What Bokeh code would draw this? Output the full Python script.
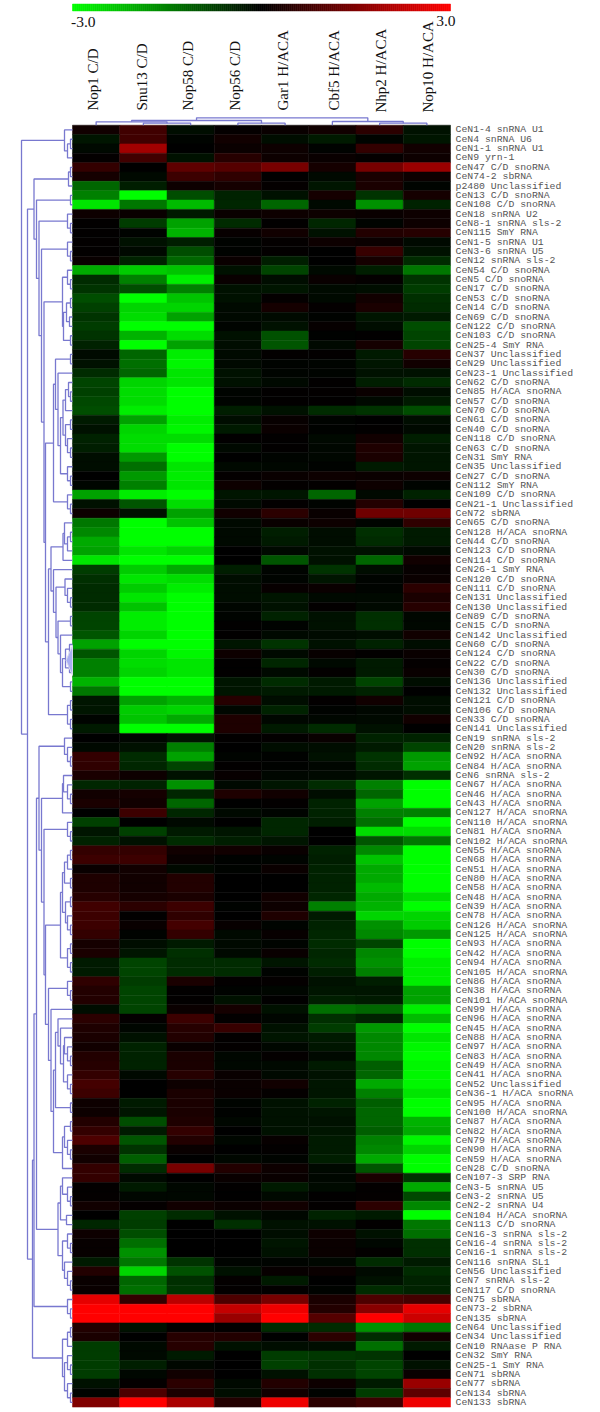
import numpy as np
from bokeh.plotting import figure
from bokeh.models import ColumnDataSource, LinearColorMapper, Range1d
from bokeh.core.properties import value
from bokeh.embed import file_html
from bokeh.resources import INLINE

columns = ["Nop1 C/D", "Snu13 C/D", "Nop58 C/D", "Nop56 C/D", "Gar1 H/ACA", "Cbf5 H/ACA", "Nhp2 H/ACA", "Nop10 H/ACA"]

labels_a = ["CeN1-4 snRNA U1","CeN4 snRNA U6","CeN1-1 snRNA U1","CeN9 yrn-1","CeN47 C/D snoRNA","CeN74-2 sbRNA","p2480 Unclassified","CeN13 C/D snoRNA","CeN108 C/D snoRNA","CeN18 snRNA U2","CeN8-1 snRNA sls-2","CeN115 SmY RNA","CeN1-5 snRNA U1","CeN3-6 snRNA U5","CeN12 snRNA sls-2"]
labels_b = ["CeN54 C/D snoRNA","CeN5 C/D snoRNA","CeN17 C/D snoRNA","CeN53 C/D snoRNA","CeN14 C/D snoRNA","CeN69 C/D snoRNA","CeN122 C/D snoRNA","CeN103 C/D snoRNA","CeN25-4 SmY RNA","CeN37 Unclassified","CeN29 Unclassified","CeN23-1 Unclassified","CeN62 C/D snoRNA","CeN85 H/ACA snoRNA","CeN57 C/D snoRNA","CeN70 C/D snoRNA","CeN61 C/D snoRNA","CeN40 C/D snoRNA","CeN118 C/D snoRNA","CeN63 C/D snoRNA","CeN31 SmY RNA","CeN35 Unclassified","CeN27 C/D snoRNA","CeN112 SmY RNA","CeN109 C/D snoRNA","CeN21-1 Unclassified","CeN72 sbRNA"]
labels_c = ["CeN65 C/D snoRNA","CeN128 H/ACA snoRNA","CeN44 C/D snoRNA","CeN123 C/D snoRNA","CeN114 C/D snoRNA","CeN26-1 SmY RNA","CeN120 C/D snoRNA","CeN111 C/D snoRNA","CeN131 Unclassified","CeN130 Unclassified","CeN89 C/D snoRNA","CeN15 C/D snoRNA","CeN142 Unclassified","CeN60 C/D snoRNA","CeN124 C/D snoRNA","CeN22 C/D snoRNA","CeN30 C/D snoRNA","CeN136 Unclassified","CeN132 Unclassified","CeN121 C/D snoRNA","CeN106 C/D snoRNA","CeN33 C/D snoRNA","CeN141 Unclassified"]
labels_d = ["CeN19 snRNA sls-2","CeN20 snRNA sls-2","CeN92 H/ACA snoRNA","CeN84 H/ACA snoRNA","CeN6 snRNA sls-2","CeN67 H/ACA snoRNA","CeN46 H/ACA snoRNA","CeN43 H/ACA snoRNA","CeN127 H/ACA snoRNA","CeN110 H/ACA snoRNA","CeN81 H/ACA snoRNA","CeN102 H/ACA snoRNA","CeN55 H/ACA snoRNA","CeN68 H/ACA snoRNA","CeN51 H/ACA snoRNA","CeN80 H/ACA snoRNA","CeN58 H/ACA snoRNA","CeN48 H/ACA snoRNA","CeN39 H/ACA snoRNA","CeN78 H/ACA snoRNA","CeN126 H/ACA snoRNA","CeN125 H/ACA snoRNA","CeN93 H/ACA snoRNA","CeN42 H/ACA snoRNA"]
labels_e = ["CeN94 H/ACA snoRNA","CeN105 H/ACA snoRNA","CeN86 H/ACA snoRNA","CeN38 H/ACA snoRNA","CeN101 H/ACA snoRNA","CeN99 H/ACA snoRNA","CeN96 H/ACA snoRNA","CeN45 H/ACA snoRNA","CeN88 H/ACA snoRNA","CeN97 H/ACA snoRNA","CeN83 H/ACA snoRNA","CeN49 H/ACA snoRNA","CeN41 H/ACA snoRNA","CeN52 Unclassified","CeN36-1 H/ACA snoRNA","CeN95 H/ACA snoRNA","CeN100 H/ACA snoRNA","CeN87 H/ACA snoRNA","CeN82 H/ACA snoRNA","CeN79 H/ACA snoRNA","CeN90 H/ACA snoRNA","CeN59 H/ACA snoRNA","CeN28 C/D snoRNA"]
labels_f = ["CeN107-3 SRP RNA","CeN3-5 snRNA U5","CeN3-2 snRNA U5","CeN2-2 snRNA U4","CeN104 H/ACA snoRNA","CeN113 C/D snoRNA","CeN16-3 snRNA sls-2","CeN16-4 snRNA sls-2","CeN16-1 snRNA sls-2","CeN116 snRNA SL1","CeN56 Unclassified","CeN7 snRNA sls-2","CeN117 C/D snoRNA","CeN75 sbRNA","CeN73-2 sbRNA","CeN135 sbRNA","CeN64 Unclassified","CeN34 Unclassified","CeN10 RNAase P RNA","CeN32 SmY RNA","CeN25-1 SmY RNA","CeN71 sbRNA","CeN77 sbRNA","CeN134 sbRNA","CeN133 sbRNA"]

values_a = [
[0.2,0.75,-0.15,0.05,0.1,0.2,0.5,-0.2],[-0.25,0.75,-0.05,0.2,-0.15,-0.3,-0.05,-0.25],[-0.1,1.9,0,0.12,0.15,-0.03,0.6,0.2],[0.05,0.75,-0.2,0.45,0.15,0.1,0.05,0.15],
[0.6,0,1.1,1.0,1.4,0.25,1.4,1.8],[0.25,-0.1,0.7,0.55,0.02,-0.1,0.3,0.15],[-1.2,-0.35,0.15,0.25,0.05,-0.25,0.3,-0.05],[-1.5,-3,-0.9,-0.4,-0.2,0.25,-0.6,0.25],
[-2.7,-1.4,-2.2,-0.45,-1.2,-0.1,-1.7,-0.4],[0.15,0.1,-0.3,0.1,0.15,0.15,0.1,0.15],[0.02,-0.7,-1.9,-0.5,0.02,-0.45,-0.05,0.15],[0.02,-0.03,-2.1,0.08,0.2,-0.2,0.4,0.45],
[0.03,-0.2,-0.35,-0.03,0.05,0.15,0.12,-0.1],[0.03,-0.1,-0.9,-0.03,0.03,0,0.65,-0.2],[0.1,-0.4,-1.2,0.12,-0.35,0,0.25,-0.5]]
values_b = [
[-2.0,-2.4,-2.3,-0.2,-0.8,-0.1,-0.35,-1.4],[-0.5,-1.5,-2.8,0.1,-0.15,0.1,0.05,-0.6],[-0.6,-0.9,-1.5,-0.2,-0.25,-0.12,-0.15,-0.7],[-0.9,-3,-2.3,-0.2,0.05,-0.1,0.2,-0.55],
[-0.75,-2.5,-2.5,-0.12,0.25,0.05,0.3,-0.5],[-0.6,-2.6,-1.9,-0.1,-0.12,-0.03,-0.25,-0.3],[-0.7,-3,-3,-0.05,-0.2,0.07,-0.15,-0.9],[-0.6,-2.1,-2.6,-0.2,-0.95,-0.02,0.02,-0.8],
[-0.4,-3,-1.9,-0.15,-1.0,-0.1,0.25,-0.8],[-0.12,-1.2,-2.8,-0.12,0.03,0.03,-0.3,0.45],[-0.2,-1.3,-2.9,-0.1,-0.03,-0.05,-0.25,0.2],[-0.5,-1.2,-2.7,-0.2,-0.05,-0.05,-0.2,-0.2],
[-0.8,-2.5,-2.7,-0.2,-0.1,0.02,-0.35,-0.5],[-0.75,-2.6,-3,-0.05,0.02,0.03,0.12,-0.15],[-0.85,-2.6,-3,-0.05,0.02,0.02,-0.1,-0.3],[-0.9,-2.8,-3,-0.35,-0.2,-0.5,-0.6,-0.9],
[-0.3,-1.9,-2.8,-0.15,0.08,-0.03,0,-0.15],[-0.2,-2.5,-2.9,-0.3,0.12,-0.02,0.02,-0.1],[-0.4,-2.6,-2.6,0.02,0.02,-0.1,0.2,-0.35],[-0.35,-2.6,-3,-0.1,0.02,-0.08,0.35,-0.25],
[-0.15,-1.8,-3,0,-0.05,-0.08,0.3,-0.25],[-0.15,-1.3,-2.7,-0.1,-0.08,-0.03,-0.3,-0.25],[0,-1.8,-2.8,0.05,0.1,0.15,0.12,0.15],[-0.07,-1.5,-2.7,0.15,0.03,0.03,0.15,-0.05],
[-1.9,-2.8,-3,-0.25,-0.25,-1.2,-0.1,-0.4],[-0.2,-1.0,-2.6,-0.12,0.03,-0.05,0.4,0],[0.15,-0.2,-1.9,0.2,0.5,0.1,1.3,1.3]]
values_c = [
[-1.4,-3,-2.3,-0.1,0.1,0.15,-0.05,0.55],[-1.6,-3,-3,-0.1,-0.35,-0.15,-0.55,-0.3],[-2.0,-3,-3,-0.1,-0.3,-0.15,-0.5,-0.3],[-1.9,-2.7,-2.5,0,-0.1,-0.2,-0.2,-0.1],
[-2.7,-3,-3,0,-1.0,-0.2,-1.2,0.2],[-0.7,-2.4,-2.0,-0.35,-0.05,-0.6,-0.15,0.08],[-0.55,-2.7,-2.6,-0.15,-0.05,-0.25,-0.05,0.12],[-0.5,-2.4,-2.8,-0.15,0.08,0.12,-0.05,0.5],
[-0.5,-2.7,-3,-0.15,-0.25,-0.1,-0.1,0.3],[-0.5,-2.3,-3,-0.07,-0.2,0.03,-0.1,0.45],[-0.8,-2.8,-3,-0.05,-0.4,-0.2,-0.55,-0.08],[-0.8,-2.8,-3,0.02,-0.03,-0.2,-0.55,-0.08],
[-1.0,-2.5,-3,0.02,-0.1,-0.12,-0.15,0.2],[-1.9,-3,-3,-0.25,-0.6,-0.2,-0.4,-0.15],[-1.0,-2.5,-2.9,0.15,-0.1,0.08,0.02,0.1],[-1.5,-2.6,-2.7,0.02,-0.45,-0.1,-0.3,0.05],
[-1.5,-2.5,-2.7,0.02,-0.1,0.03,-0.3,0.1],[-2.1,-3,-3,-0.25,-0.5,-0.3,-0.8,-0.15],[-1.4,-3,-3,-0.25,-0.3,-0.3,-0.4,0],[-0.25,-1.9,-2.1,0.45,-0.15,0.03,0.2,-0.15],
[-0.25,-2.4,-2.5,-0.08,-0.4,-0.03,-0.08,-0.15],[-0.05,-2.3,-2.0,0.35,-0.08,-0.08,-0.1,0.2],[-0.3,-3,-3,0.35,-0.3,-0.5,-0.2,0]]
values_d = [
[0,-0.07,-0.25,0.02,0.03,0.1,-0.4,-0.4],[-0.1,-0.2,-1.5,0,-0.15,-0.15,-0.3,-0.8],[0.6,-0.5,-1.9,-0.05,-0.02,-0.2,-0.6,-1.8],[0.55,-0.45,-0.8,0.02,-0.02,-0.07,-0.5,-1.9],
[0.3,0.15,-0.2,0.08,-0.08,-0.1,-0.25,-0.55],[-0.45,-0.4,-1.7,-0.1,-0.25,-0.5,-1.5,-3],[0.2,0.25,-0.45,0.35,0.2,-0.15,-1.2,-3],[0.3,0.2,-1.2,0,0.03,-0.4,-1.9,-3],
[0,0.7,-0.45,-0.1,-0.05,-0.4,-1.5,-1.5],[-0.75,0,-0.1,0,-0.45,-0.35,-1.3,-3],[-0.25,-0.75,-0.3,-0.25,-0.45,0,-2.6,-2.6],[-0.4,-0.2,-0.5,-0.35,-0.25,0,-1.0,-1.4],
[0.6,0.6,0.2,0.2,0.1,-0.4,-1.6,-3],[0.7,0.7,0.1,-0.02,-0.05,-0.35,-2.3,-3],[0.1,0.2,-0.1,-0.03,0.12,-0.4,-2,-3],[0.35,0.2,0.4,0,0,-0.4,-2.0,-3],
[0.35,0.2,0.4,0,0,-0.4,-2.2,-3],[0.45,0.25,0.3,0,0.2,-0.45,-2.0,-2.6],[0.75,0.5,0.7,-0.03,0.15,-1.5,-2.1,-3],[0.7,0.02,0.55,0,0.35,-0.3,-2.5,-2.5],
[0.7,0.1,0.8,0.08,-0.05,-0.4,-1.7,-2.4],[0.6,-0.03,0.6,-0.1,0.08,-0.45,-1.6,-1.8],[0.25,-0.15,-0.3,-0.1,-0.05,-0.5,-0.8,-3],[0.3,-0.25,-0.55,-0.1,0.1,-0.45,-1.6,-3]]
values_e = [
[-0.3,-0.8,-0.5,-0.5,-0.25,-0.5,-1.7,-2.8],[-0.3,-0.8,-0.5,-0.5,-0.03,-0.35,-1.5,-2.8],[0.55,-0.7,0.3,0.03,0.05,-0.2,-0.35,-2.8],[0.4,-0.8,0.02,-0.03,-0.07,-0.25,-0.25,-1.9],
[0.4,-0.8,0.02,-0.2,0.01,-0.35,-0.3,-1.9],[-0.15,-0.8,0.12,0.25,-0.2,-1.3,-1.2,-2.8],[0.5,0.05,0.7,0.03,-0.07,-0.55,-0.4,-2.2],[0.35,-0.07,0.45,0.65,-0.2,-0.7,-1.8,-3],
[0.3,-0.2,0.4,0.03,-0.25,-0.3,-1.6,-2.7],[0.2,-0.4,0.1,0.03,-0.08,-0.25,-1.6,-2.9],[0.4,-0.4,0.3,-0.08,0.05,-0.1,-1.6,-3],[0.45,-0.4,0.3,-0.08,-0.1,-0.3,-1.1,-2.9],
[0.6,-0.1,0.45,0.1,-0.1,-0.2,-1.2,-2.9],[0.8,0,0.15,0.1,0.2,-0.25,-2.0,-2.9],[0.7,0,0.3,0.12,0.05,-0.25,-1.5,-2.7],[0.15,-0.3,0.3,-0.05,-0.2,-0.4,-1.1,-3],
[0.15,-0.25,0.3,-0.02,-0.2,-0.25,-1.2,-3],[0.4,-0.9,0.35,-0.08,-0.2,-0.2,-1.2,-2.1],[0.6,-0.3,0.6,0,-0.2,-0.25,-1.1,-2.0],[0.9,-1.0,0.4,-0.08,0.08,-0.3,-1.5,-2.9],
[0.3,-0.6,0.1,0,0.03,-0.3,-1.6,-2.5],[0.2,-1.1,0,-0.08,-0.05,-0.35,-2.0,-3],[0.6,-0.5,1.4,0.4,0.15,-0.1,-1.0,-3]]
values_f = [
[0.6,-0.1,0,0.1,0.1,-0.08,0.3,-0.6],[0.03,-0.3,-0.08,0.02,-0.3,-0.12,0.03,-2.0],[0.05,-0.08,-0.08,0.01,-0.1,0.02,0.05,-0.85],[0.2,0.05,0.2,0.12,0.2,0.03,0.5,-1.6],
[0,-0.75,-0.5,-0.2,-0.08,-0.4,-0.3,-3],[-0.45,-0.7,0,-0.55,-0.2,-0.2,0.02,-1.4],[0.15,-0.9,0,0,-0.15,0.15,-0.2,-1.3],[0.08,-1.3,0,0,-0.25,0.12,-0.08,-0.55],
[0.08,-1.7,0,0,-0.2,0.12,0.03,-0.55],[-0.3,-1.4,-0.6,-0.05,-0.05,-0.08,-0.5,-0.3],[0.4,-2.5,-0.95,-0.2,0.08,0.12,-0.12,-0.5],[0.1,-1.2,-0.55,0.05,-0.3,0,-0.2,-0.4],
[0.1,-1.3,-0.6,0.03,0.03,-0.03,-0.5,-0.4],[2.7,0.6,2.2,0.9,1.4,0.3,0.9,0.8],[3,3,3,2.3,2.8,0.4,1.6,2.7],[3,3,3,1.8,3,1.0,3,2.4],
[0.4,-0.2,0.05,0.02,-0.5,-0.5,-1.7,-1.4],[0.3,0,0.45,0.4,0,0.5,-0.5,0.2],[-0.7,-0.1,0.45,-0.2,-0.15,-0.15,-1.3,-0.3],[-0.7,-0.1,-0.3,0,-0.7,-0.65,-0.6,0],
[-0.7,-0.35,-0.08,0,-0.75,-0.55,-0.8,-0.2],[-0.7,-0.08,0.2,0,-0.2,-0.55,-0.8,0.1],[-0.2,0.05,0.5,-0.1,0.4,0.15,-0.3,1.8],[-0.05,0.9,0.3,-0.15,0.2,-0.03,-0.7,1.1],[1.5,3,2.0,0.4,2.8,0.5,0.7,2.8]]

row_labels = labels_a + labels_b + labels_c + labels_d + labels_e + labels_f
matrix = values_a + values_b + values_c + values_d + values_e + values_f
n_rows, n_cols = len(row_labels), len(columns)

# Row tree: (merge distance, child, child); L is one row, rows keep their top-down order.
L = None
pair = (2, L, L)
tri = (5, L, pair)
quad_ = (8, L, tri)
rows_1_4 = (8, L, (5, pair, L))
rows_5_7 = (4, pair, L)
rows_16_24 = (10, tri, (9, (6, pair, (3, L, L)), pair))
rows_28_36 = (9.5, (7, (4, L, pair), L), (7, pair, tri))
rows_25_42 = (19, (17, pair, (14.5, L, (12, rows_28_36, tri))), tri)
rows_43_47 = (9.5, (8, L, (5, pair, L)), L)
rows_49_52 = (7.5, L, tri)
rows_56_61 = (10, (7, (3, L, L), (3, L, L)), pair)
rows_43_61 = (21.5, rows_43_47, (19, L, (16.5, rows_49_52, (14.5, pair, (12, L, rows_56_61)))))
rows_43_65 = (24, rows_43_61, (5, pair, pair))
rows_5_65 = (38.5, rows_5_7, (36, pair, (33.5, tri, (31, tri, (28.5, rows_16_24, (27, rows_25_42, rows_43_65))))))
rows_70_74 = (10, (9, L, tri), L)
rows_78_91 = (12, (10, (8, (5, pair, L), pair), (7, pair, tri)), (5, pair, pair))
rows_96_104 = (14.5, L, (12, L, (9, quad_, tri)))
rows_107_112 = (10, (8, pair, tri), L)
rows_92_112 = (24, tri, (21.5, L, (19, (17, rows_96_104, pair), rows_107_112)))
rows_66_112 = (33.5, quad_, (31, rows_70_74, (28.5, tri, (27, rows_78_91, rows_92_112))))
rows_113_125 = (14.5, (12, (10, L, tri), (6, L, L)), (10, tri, quad_))
rows_129_137 = (10, (5, pair, L), (8, tri, tri))
rows_66_137 = (40, (38.5, (36, rows_66_112, rows_113_125), tri), rows_129_137)
row_tree = (51, rows_1_4, (45, rows_5_65, rows_66_137))

# Column tree: (merge height, child, child), leaves are the columns in order.
col_tree = (7.4, (4.7, (3.4, L, (2, L, L)), (2, L, L)), (3.7, L, (2, L, L)))

# Pixel geometry of the reference: heat map occupies x 72..450, y 124.7..1406.7
X0, CW, Y0, RH = 72.0, 47.25, 124.7, 9.357
W, H = 600, 1412
col = lambda px: (px - X0) / CW
row = lambda py: (py - Y0) / RH

p = figure(width=W, height=H, output_backend="svg", toolbar_location=None,
           x_range=Range1d(col(0), col(W)), y_range=Range1d(row(H), row(0)),
           min_border=0, outline_line_color=None, background_fill_color="white")
p.axis.visible = False
p.grid.visible = False
p.margin = 0
p.extra_x_ranges["dist"] = Range1d(X0, X0 - W)
p.extra_y_ranges["height"] = Range1d(Y0 - H, Y0)

palette = ["#%02x%02x%02x" % (0, 255 - i, 0) for i in range(256)] + ["#%02x%02x%02x" % (i, 0, 0) for i in range(1, 256)]
mapper = LinearColorMapper(palette=palette, low=-3, high=3)
fill = {"field": "v", "transform": mapper}

cells = {"c": [], "r": [], "v": []}
for r, vals in enumerate(matrix):
    for c, v in enumerate(vals):
        cells["c"].append(c + 0.5)
        cells["r"].append(r + 0.5)
        cells["v"].append(v)
p.rect("c", "r", 1, 1, source=ColumnDataSource(cells), fill_color=fill, line_color=fill, line_width=0.5)

# Colour scale strip
ramp = np.linspace(-3, 3, 190)
edges = np.linspace(0, n_cols, len(ramp) + 1)
ramp_colors = [palette[int(round((v + 3) / 6 * 510))] for v in ramp]
p.quad(left=edges[:-1], right=edges[1:], top=row(3.6), bottom=row(10.4),
       fill_color=ramp_colors, line_color=ramp_colors, line_width=0.6)
scale_font = value("Liberation Serif")
p.text([col(70.5)], [row(21)], text=["-3.0"], text_font=scale_font, text_font_size="15.5px",
       text_baseline="middle", text_align="left", text_color="#111111")
p.text([col(455)], [row(20)], text=["3.0"], text_font=scale_font, text_font_size="15.5px",
       text_baseline="middle", text_align="right", text_color="#111111")

# Dendrograms
line_c = "#7878cf"

def walk_rows(node, start, xs, ys):
    if node is None:
        return start + 0.5, 0.0, start + 1
    d, a, b = node
    ya, da, nxt = walk_rows(a, start, xs, ys)
    yb, db, nxt = walk_rows(b, nxt, xs, ys)
    xs.append([da, d, d, db])
    ys.append([ya, ya, yb, yb])
    return (ya + yb) / 2, d, nxt

def walk_cols(node, start, xs, ys):
    if node is None:
        return start + 0.5, 0.0, start + 1
    h, a, b = node
    xa, ha, nxt = walk_cols(a, start, xs, ys)
    xb, hb, nxt = walk_cols(b, nxt, xs, ys)
    xs.append([xa, xa, xb, xb])
    ys.append([ha, h, h, hb])
    return (xa + xb) / 2, h, nxt

rx, ry = [], []
walk_rows(row_tree, 0, rx, ry)
p.multi_line(rx, ry, x_range_name="dist", line_color=line_c, line_width=1.3)
cx, cy = [], []
walk_cols(col_tree, 0, cx, cy)
p.multi_line(cx, cy, y_range_name="height", line_color=line_c, line_width=1.3)

# Pale smear over the tree in the reference, near CeN124..CeN30
smear_dist = [0, 6.5, 0]
smear_row = [55.6, 57.2, 58.8]
p.patch(smear_dist, smear_row, x_range_name="dist", fill_color="#a9aff2", line_color="#d8d8ee", line_width=1)

# Text: column labels sit slightly off the column centres in the reference
label_px = [92, 141, 187, 234, 282, 333, 380, 427]
p.text([col(x) for x in label_px], [14.7, 14.7, 14.7, 14.7, 14.7, 14.7, 12.7, 12.7], y_range_name="height", text=columns,
       angle=np.pi / 2, text_font=scale_font, text_font_size="15px", text_align="left",
       text_baseline="middle", text_color="#111111")
p.text([col(455)] * n_rows, [i + 0.5 for i in range(n_rows)], text=row_labels,
       text_font=value("Liberation Mono"), text_font_size="9.8px", text_align="left",
       text_baseline="middle", text_color="#555555")

open("out.html", "w").write(file_html(p, INLINE))
